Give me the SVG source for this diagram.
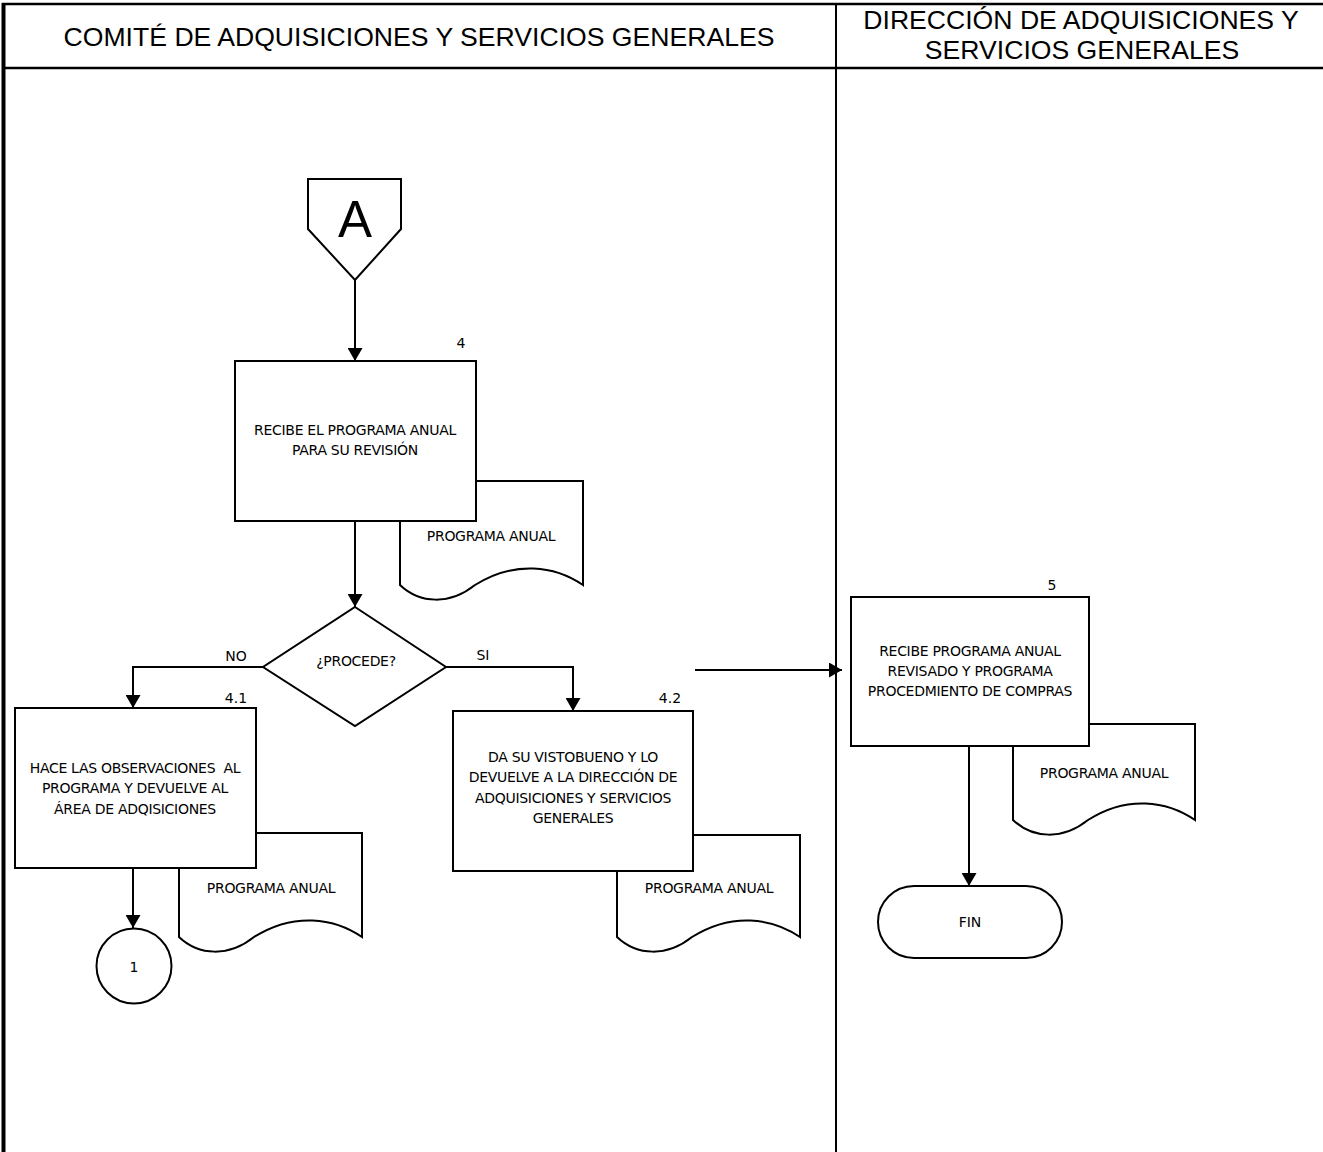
<svg xmlns="http://www.w3.org/2000/svg" width="1323" height="1152" viewBox="0 0 1323 1152">
  <style>
    .frame { stroke: #000; fill: none; }
    .shape { stroke: #000; stroke-width: 2; fill: #fff; }
    .line { stroke: #000; stroke-width: 2; fill: none; }
    .head { font-family: "Liberation Sans", Arial, sans-serif; font-size: 26.6px; fill: #000; text-anchor: middle; }
    .lbl { font-family: "DejaVu Sans", Verdana, sans-serif; font-size: 14px; fill: #000; text-anchor: middle; letter-spacing: -0.3px; }
    .num { font-family: "DejaVu Sans", Verdana, sans-serif; font-size: 14px; fill: #000; text-anchor: middle; }
  </style>
  <defs>
    <marker id="arrow" viewBox="0 0 13 15" refX="13" refY="7.5" markerWidth="13" markerHeight="15" markerUnits="userSpaceOnUse" orient="auto">
      <path d="M0,0 L13,7.5 L0,15 Z" fill="#000"/>
    </marker>
  </defs>

  <rect width="1323" height="1152" fill="#fff"/>

  <!-- swimlane frame -->
  <g id="lanes">
    <line class="frame" x1="3.5" y1="3" x2="3.5" y2="1152" stroke-width="4"/>
    <line class="frame" x1="2" y1="4" x2="1323" y2="4" stroke-width="2.5"/>
    <line class="frame" x1="2" y1="68" x2="1323" y2="68" stroke-width="2.5"/>
    <line class="frame" x1="836" y1="4" x2="836" y2="1152" stroke-width="2"/>
    <text class="head" x="419" y="46">COMITÉ DE ADQUISICIONES Y SERVICIOS GENERALES</text>
    <text class="head" x="1081" y="29">DIRECCIÓN DE ADQUISICIONES Y</text>
    <text class="head" x="1082" y="59">SERVICIOS GENERALES</text>
  </g>

  <!-- connectors -->
  <g id="connectors">
    <line class="line" x1="355" y1="280" x2="355" y2="361" marker-end="url(#arrow)"/>
    <line class="line" x1="355" y1="521" x2="355" y2="607" marker-end="url(#arrow)"/>
    <polyline class="line" points="263,667 133,667 133,708" marker-end="url(#arrow)"/>
    <polyline class="line" points="446,667 573,667 573,711" marker-end="url(#arrow)"/>
    <line class="line" x1="695" y1="670" x2="842" y2="670" marker-end="url(#arrow)"/>
    <line class="line" x1="133" y1="868" x2="133" y2="928" marker-end="url(#arrow)"/>
    <line class="line" x1="969" y1="746" x2="969" y2="886" marker-end="url(#arrow)"/>
    <text class="num" x="236" y="661">NO</text>
    <text class="num" x="483" y="660">SI</text>
  </g>

  <!-- off-page connector A -->
  <g id="conn-A">
    <path class="shape" d="M308,179 H401 V229 L355,280 L308,229 Z"/>
    <text x="355" y="237" font-family="Liberation Sans, Arial, sans-serif" font-size="51" text-anchor="middle">A</text>
  </g>

  <!-- step 4 -->
  <g id="doc-4">
    <path class="shape" d="M400,481 H583 V585 C555,566 515,560 475,585 C450,605 420,604 400,585 Z"/>
    <text class="lbl" x="491" y="541">PROGRAMA ANUAL</text>
  </g>
  <g id="step-4">
    <rect class="shape" x="235" y="361" width="241" height="160"/>
    <text class="num" x="461" y="348">4</text>
    <text class="lbl" x="355" y="435">RECIBE EL PROGRAMA ANUAL</text>
    <text class="lbl" x="355" y="455">PARA SU REVISIÓN</text>
  </g>

  <!-- decision -->
  <g id="decision">
    <path class="shape" d="M355,607 L446,667 L355,726 L263,667 Z"/>
    <text class="lbl" x="356" y="666">¿PROCEDE?</text>
  </g>

  <!-- step 4.1 -->
  <g id="doc-4-1">
    <path class="shape" d="M179,833 H362 V937 C334,918 294,912 254,937 C229,957 199,956 179,937 Z"/>
    <text class="lbl" x="271" y="893">PROGRAMA ANUAL</text>
  </g>
  <g id="step-4-1">
    <rect class="shape" x="15" y="708" width="241" height="160"/>
    <text class="num" x="236" y="703">4.1</text>
    <text class="lbl" x="135" y="773" xml:space="preserve">HACE LAS OBSERVACIONES  AL</text>
    <text class="lbl" x="135" y="793">PROGRAMA Y DEVUELVE AL</text>
    <text class="lbl" x="135" y="814">ÁREA DE ADQISICIONES</text>
  </g>
  <g id="conn-1">
    <circle class="shape" cx="134" cy="966" r="37.5"/>
    <text class="num" x="134" y="972">1</text>
  </g>

  <!-- step 4.2 -->
  <g id="doc-4-2">
    <path class="shape" d="M617,835 H800 V937 C772,918 732,912 692,937 C667,957 637,956 617,937 Z"/>
    <text class="lbl" x="709" y="893">PROGRAMA ANUAL</text>
  </g>
  <g id="step-4-2">
    <rect class="shape" x="453" y="711" width="240" height="160"/>
    <text class="num" x="670" y="703">4.2</text>
    <text class="lbl" x="573" y="762">DA SU VISTOBUENO Y LO</text>
    <text class="lbl" x="573" y="782">DEVUELVE A LA DIRECCIÓN DE</text>
    <text class="lbl" x="573" y="803">ADQUISICIONES Y SERVICIOS</text>
    <text class="lbl" x="573" y="823">GENERALES</text>
  </g>

  <!-- step 5 -->
  <g id="doc-5">
    <path class="shape" d="M1013,724 H1195 V820 C1167,801 1127,795 1088,820 C1063,840 1033,839 1013,820 Z"/>
    <text class="lbl" x="1104" y="778">PROGRAMA ANUAL</text>
  </g>
  <g id="step-5">
    <rect class="shape" x="851" y="597" width="238" height="149"/>
    <text class="num" x="1052" y="590">5</text>
    <text class="lbl" x="970" y="656">RECIBE PROGRAMA ANUAL</text>
    <text class="lbl" x="970" y="676">REVISADO Y PROGRAMA</text>
    <text class="lbl" x="970" y="696">PROCEDMIENTO DE COMPRAS</text>
  </g>

  <!-- end -->
  <g id="fin">
    <rect class="shape" x="878" y="886" width="184" height="72" rx="36" ry="36"/>
    <text class="num" x="970" y="927">FIN</text>
  </g>
</svg>
